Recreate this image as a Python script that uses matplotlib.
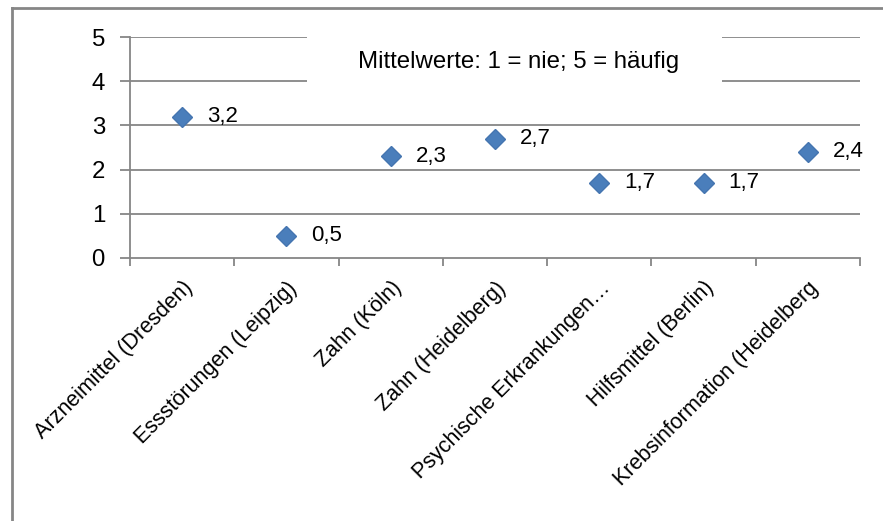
import numpy as np
import matplotlib.pyplot as plt
from matplotlib.lines import Line2D

plt.rcParams['font.family'] = ['Liberation Sans', 'DejaVu Sans']

categories = ['Arzneimittel (Dresden)', 'Essstörungen (Leipzig)', 'Zahn (Köln)',
              'Zahn (Heidelberg)', 'Psychische Erkrankungen…', 'Hilfsmittel (Berlin)',
              'Krebsinformation (Heidelberg']
values = [3.2, 0.5, 2.3, 2.7, 1.7, 1.7, 2.4]
value_labels = ['3,2', '0,5', '2,3', '2,7', '1,7', '1,7', '2,4']
y_ticks = [0, 1, 2, 3, 4, 5]
note = 'Mittelwerte: 1 = nie; 5 = häufig'

W, H = 883, 521
fig = plt.figure(figsize=(W / 100, H / 100), dpi=100)
ax = fig.add_axes([130 / W, 1 - 258 / H, (860 - 130) / W, (258 - 37) / H])

grid_col = '#868686'
x = np.arange(len(categories))
ax.set_xlim(-0.5, len(categories) - 0.5)
ax.set_ylim(0, 5)

for v in y_ticks[1:]:
    ax.axhline(v, color=grid_col, lw=1.3, zorder=1)

ax.plot(x, values, linestyle='none', marker='D', ms=10.5, color='#4a7ebb',
        markeredgecolor='#4575b0', zorder=3)
for xi, v, lab in zip(x, values, value_labels):
    ax.annotate(lab, (xi, v), xytext=(18, 0), textcoords='offset points',
                va='center', ha='left', fontsize=16, color='black')

# note box sits over the upper gridlines
ax.text(519 / W, 1 - 62 / H, note, transform=fig.transFigure, ha='center', va='center',
        fontsize=17.3, zorder=5)
ax.add_patch(plt.Rectangle((307 / W, 1 - 92 / H), (722 - 307) / W, 62 / H,
                           transform=fig.transFigure, facecolor='white', edgecolor='none',
                           zorder=4))

for s in ['top', 'right']:
    ax.spines[s].set_visible(False)
for s in ['left', 'bottom']:
    ax.spines[s].set_color(grid_col)
    ax.spines[s].set_linewidth(1.3)

ax.set_yticks(y_ticks)
ax.set_yticklabels([str(t) for t in y_ticks], fontsize=17.3)
ax.tick_params(axis='y', length=7, width=1.3, color=grid_col, pad=11)

ax.set_xticks(np.arange(len(categories) + 1) - 0.5, minor=True)
ax.set_xticks(x)
ax.set_xticklabels(categories, rotation=45, ha='right', rotation_mode='anchor',
                   fontsize=15.5)
ax.tick_params(axis='x', which='major', length=0, pad=14)
ax.tick_params(axis='x', which='minor', length=6, width=1.3, color=grid_col)

# outer chart frame
fig.add_artist(Line2D([12 / W, 12 / W], [0, 1 - 8 / H], color=grid_col, lw=2))
fig.add_artist(Line2D([12 / W, 1], [1 - 8 / H, 1 - 8 / H], color=grid_col, lw=2))

fig.savefig('out.png', dpi=100, facecolor='white')
